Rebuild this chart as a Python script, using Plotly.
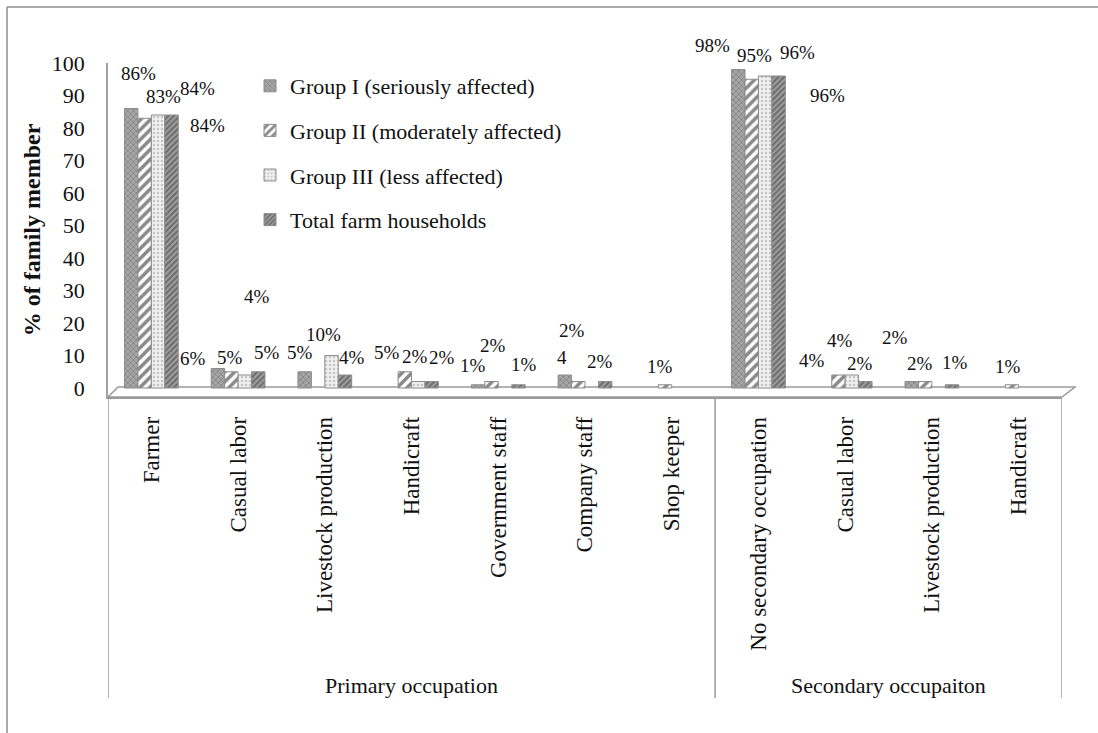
import plotly.graph_objects as go

# Occupation categories, grouped by primary / secondary occupation
group_names = ["Primary occupation", "Secondary occupaiton"]
groups = [group_names[0]] * 7 + [group_names[1]] * 4
occupations = [
    "Farmer", "Casual labor", "Livestock production", "Handicraft",
    "Government staff", "Company staff", "Shop keeper",
    "No secondary occupation", "Casual labor", "Livestock production", "Handicraft",
]

# % of family members per household group (None = no entry)
group_1 = [86, 6, 5, None, 1, 4, None, 98, None, 2, None]
group_2 = [83, 5, None, 5, 2, 2, 1, 95, 4, 2, 1]
group_3 = [84, 4, 10, 2, None, None, None, 96, 4, None, None]
total = [84, 5, 4, 2, 1, 2, None, 96, 2, 1, None]

series_names = [
    "Group I (seriously affected)",
    "Group II (moderately affected)",
    "Group III (less affected)",
    "Total farm households",
]
series_values = [group_1, group_2, group_3, total]

y_ticks = [0, 10, 20, 30, 40, 50, 60, 70, 80, 90, 100]

# ---- styling -------------------------------------------------------------
FONT = "'Liberation Serif', 'Times New Roman', serif"
patterns = [
    dict(shape="x", fgcolor="#505050", bgcolor="#a8a8a8", size=4, solidity=0.35),
    dict(shape="/", fgcolor="#111111", bgcolor="#ffffff", size=7, solidity=0.5),
    dict(shape=".", fgcolor="#9a9a9a", bgcolor="#f0f0f0", size=4, solidity=0.3),
    dict(shape="/", fgcolor="#333333", bgcolor="#a0a0a0", size=4, solidity=0.5),
]
BARGAP = 0.38
BAR_W = (1 - BARGAP) / 4

# pixel nudges (right, up) for each value label
label_nudges = [
    [(7, 35), (-25, 10), (-5, 19), None, (-5, 19), (-3, 18), None, (-26, 24), None, (-17, 44), None],
    [(19, 22), (-1, 14), None, (-18, 19), (1, 36), (-6, 51), (-5, 18), (3, 24), (-26, 15), (-5, 18), (-4, 18)],
    [(39, 27), (12, 79), (-8, 21), (-3, 25), None, None, None, (32, 24), (-12, 35), None, None],
    [(36, -10), (9, 19), (7, 18), (10, 24), (6, 20), (-5, 20), None, (49, -19), (-5, 18), (3, 22), None],
]
# the company-staff label of Group I is printed without the % sign
plain_labels = {(0, 5)}

# unique category keys so that repeated occupation names stay separate
keys = [f"{g} | {o}" for g, o in zip(groups, occupations)]

fig = go.Figure()
for k, (name, vals) in enumerate(zip(series_names, series_values)):
    fig.add_trace(go.Bar(
        name=name,
        x=keys,
        y=vals,
        legendgroup=name,
        marker=dict(color=patterns[k]["bgcolor"], pattern=patterns[k],
                    line=dict(color="#8c8c8c", width=1)),
        hoverinfo="skip",
    ))

annotations = []
for k, vals in enumerate(series_values):
    for i, v in enumerate(vals):
        if v is None:
            continue
        dx, up = label_nudges[k][i]
        text = f"{v}" if (k, i) in plain_labels else f"{v}%"
        annotations.append(dict(
            x=i + (k - 1.5) * BAR_W, y=v, xref="x", yref="y",
            text=text, showarrow=False, xanchor="center", yanchor="middle",
            xshift=dx, yshift=up, font=dict(family=FONT, size=19, color="#111"),
        ))

# geometry helpers (pixel -> paper) for decorative frame lines
L, R, T, B = 108, 36, 63, 336
W, H = 1098, 733
PW, PH = W - L - R, H - T - B


def px(xp):
    return (xp - L) / PW


def py(yp):
    return (H - B - yp) / PH


# outer group labels centred under their categories, dividers at group edges
bounds = [-0.5]
for i in range(1, len(groups)):
    if groups[i] != groups[i - 1]:
        bounds.append(i - 0.5)
bounds.append(len(groups) - 0.5)

for g, (a, b) in zip(group_names, zip(bounds[:-1], bounds[1:])):
    annotations.append(dict(
        x=(a + b) / 2, y=py(685), xref="x", yref="paper", text=g,
        showarrow=False, xanchor="center", yanchor="middle",
        font=dict(family=FONT, size=22, color="#111"),
    ))

shapes = [
    # 3-D style floor under the bars
    dict(type="path", xref="paper", yref="paper", layer="below",
         path=(f"M {px(108)},{py(397)} L {px(118)},{py(387)} "
               f"L {px(1075)},{py(387)} L {px(1062)},{py(397)} Z"),
         line=dict(color="#9a9a9a", width=1.5)),
    # chart frame (top and left edges)
    dict(type="line", xref="paper", yref="paper",
         x0=px(7), x1=px(1098), y0=py(7), y1=py(7),
         line=dict(color="#8f8f8f", width=1.5)),
    dict(type="line", xref="paper", yref="paper",
         x0=px(7), x1=px(7), y0=py(7), y1=py(733),
         line=dict(color="#8f8f8f", width=1.5)),
]
for xb in bounds:
    shapes.append(dict(type="line", xref="x", yref="paper",
                       x0=xb, x1=xb, y0=py(397), y1=py(698),
                       line=dict(color="#9a9a9a", width=1.5)))

fig.update_layout(
    width=W, height=H,
    margin=dict(l=L, r=R, t=T, b=B, autoexpand=False),
    paper_bgcolor="white", plot_bgcolor="white",
    barmode="group", bargap=BARGAP, bargroupgap=0,
    font=dict(family=FONT, size=20, color="#111"),
    showlegend=True,
    legend=dict(x=px(250), y=py(65), xanchor="left", yanchor="top",
                bgcolor="rgba(0,0,0,0)", font=dict(family=FONT, size=22),
                tracegroupgap=13, traceorder="grouped", itemwidth=30),
    annotations=annotations,
    shapes=shapes,
)

fig.update_xaxes(
    type="category", tickvals=keys, ticktext=occupations,
    range=[-0.5, len(keys) - 0.5],
    showgrid=False, zeroline=False,
    showline=True, linecolor="#9a9a9a", linewidth=1.5,
    ticks="", tickangle=-90, ticklabelstandoff=9,
    tickfont=dict(family=FONT, size=23, color="#111"),
    automargin=False,
)
fig.update_yaxes(
    range=[-(397 - 388) / 3.25, 100], tickvals=y_ticks,
    showgrid=False, zeroline=False,
    showline=True, linecolor="#a0a0a0", linewidth=1.5,
    tickfont=dict(family=FONT, size=22, color="#111"), ticklabelstandoff=17,
    title=dict(text="% of family member", standoff=4,
               font=dict(family=FONT, size=24, weight="bold", color="#111")),
    automargin=False,
)

fig.write_html("out.html")
